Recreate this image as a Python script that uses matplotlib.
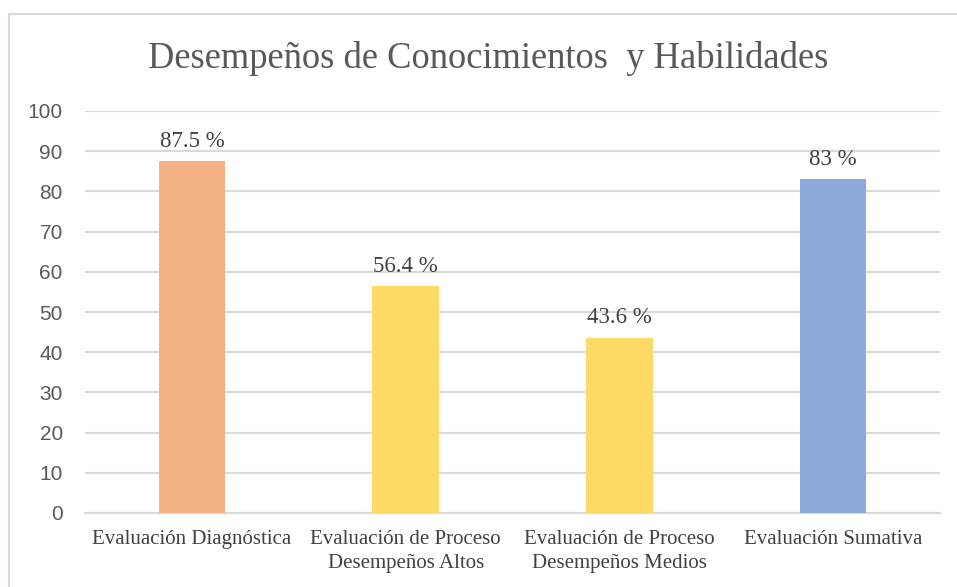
import numpy as np
import matplotlib.pyplot as plt
from matplotlib.lines import Line2D

categorias = ["Evaluación Diagnóstica",
              "Evaluación de Proceso\nDesempeños Altos",
              "Evaluación de Proceso\nDesempeños Medios",
              "Evaluación Sumativa"]
valores = [87.5, 56.4, 43.6, 83]
etiquetas = ["87.5 %", "56.4 %", "43.6 %", "83 %"]
colores = ["#F4B183", "#FFD966", "#FFD966", "#8EA9DB"]

W, H = 957, 587
fig = plt.figure(figsize=(W/100, H/100), dpi=100)
ax = fig.add_axes([85/W, 1 - 513/H, (940 - 85)/W, (513 - 111)/H])

x = np.arange(len(categorias))
ax.bar(x, valores, width=0.31, color=colores, zorder=3)
for xi, v, t in zip(x, valores, etiquetas):
    ax.annotate(t, (xi, v), xytext=(0, 7), textcoords="offset points",
                ha="center", va="bottom", fontsize=16.5,
                family="Liberation Serif", color="#404040")

ax.set_xlim(-0.5, len(categorias) - 0.5)
ax.set_ylim(0, 100)
ax.set_yticks(range(0, 101, 10))
ax.yaxis.grid(True, color="#D9D9D9", lw=1.5, zorder=0)
for s in ("top", "right", "left"):
    ax.spines[s].set_visible(False)
ax.spines["bottom"].set_color("#D9D9D9")
ax.spines["bottom"].set_linewidth(1.5)
ax.tick_params(axis="both", length=0)
ax.tick_params(axis="y", pad=16, labelsize=15, labelcolor="#595959")
ax.set_xticks(x)
ax.set_xticklabels(categorias, fontsize=15, family="Liberation Serif",
                   color="#404040", linespacing=1.4)
ax.tick_params(axis="x", pad=12)
for lab in ax.get_yticklabels():
    lab.set_family("Liberation Sans")

fig.text(488/W, 1 - 59/H, "Desempeños de Conocimientos  y Habilidades",
         ha="center", va="center", fontsize=26.3, family="Liberation Serif",
         color="#595959")

# marco exterior del gráfico
fig.add_artist(Line2D([8.5/W, 8.5/W], [0, 1 - 13.5/H], color="#D9D9D9", lw=1.5))
fig.add_artist(Line2D([8.5/W, 1], [1 - 13.5/H, 1 - 13.5/H], color="#D9D9D9", lw=1.5))

fig.savefig("out.png", dpi=100)
